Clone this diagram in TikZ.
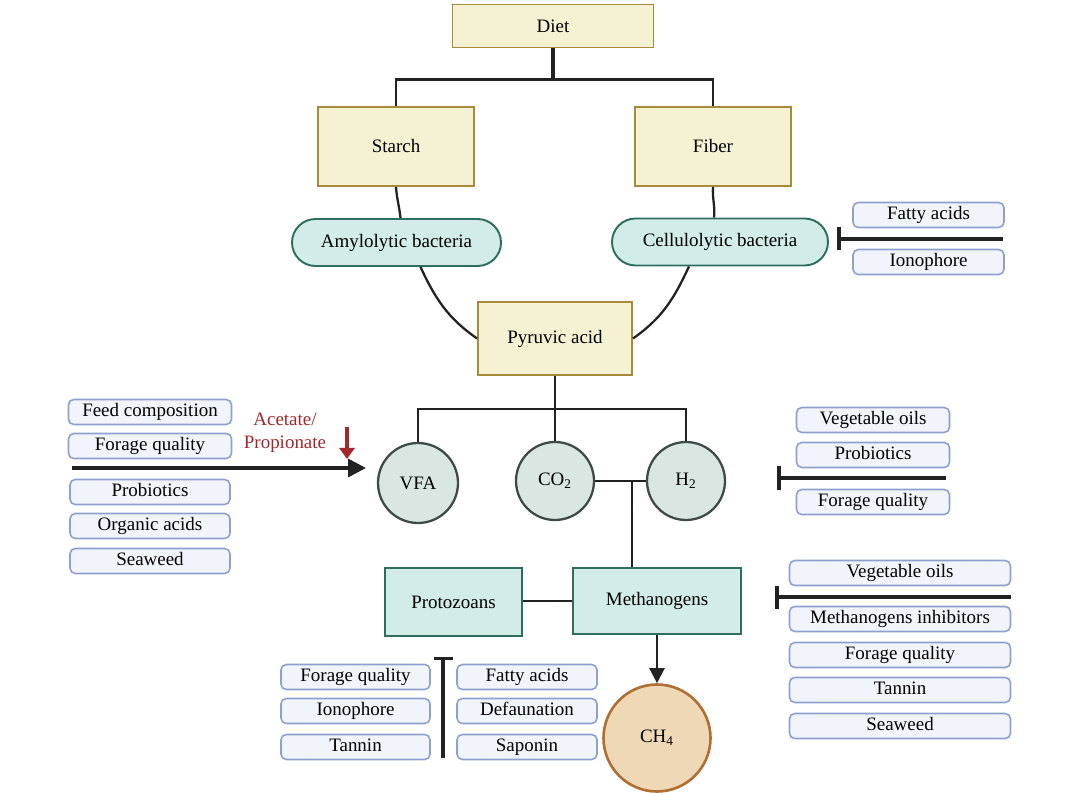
\documentclass[tikz,border=0pt]{standalone}
\usepackage{fontspec}
\setmainfont{Liberation Serif}
\usetikzlibrary{arrows.meta,calc}
\definecolor{yfill}{HTML}{F5F2D3}
\definecolor{yborder}{HTML}{A88B3A}
\definecolor{tfill}{HTML}{D2ECE7}
\definecolor{tborder}{HTML}{2F6E5F}
\definecolor{cfill}{HTML}{DAE6E2}
\definecolor{cborder}{HTML}{3E4A47}
\definecolor{ffill}{HTML}{F1F4FA}
\definecolor{fborder}{HTML}{8FA0CE}
\definecolor{mfill}{HTML}{EED8B5}
\definecolor{mborder}{HTML}{B06F35}
\definecolor{redc}{HTML}{A3282B}
\definecolor{lcol}{HTML}{222222}
\begin{document}
\begin{tikzpicture}[font=\fontsize{10.8}{13}\selectfont]
            \tikzstyle{ybox}=[draw=yborder, fill=yfill, line width=1.1pt, inner sep=2pt]
            \tikzstyle{pill}=[draw=tborder, fill=tfill, line width=1.1pt, rounded corners=0.47cm, minimum height=0.94cm]
            \tikzstyle{tbox}=[draw=tborder, fill=tfill, line width=1.3pt]
            \tikzstyle{bub}=[circle, draw=cborder, fill=cfill, line width=1.3pt, minimum size=1.56cm, inner sep=0pt]
            \tikzstyle{fbox}=[draw=fborder, fill=ffill, line width=0.9pt, rounded corners=3pt, minimum height=0.5cm, inner sep=1pt, text height=1.6ex, text depth=0.4ex]
            \tikzstyle{link}=[draw=lcol, line width=1.3pt]
            \tikzstyle{stop}=[draw=lcol, line width=2.2pt]
            \useasboundingbox (0,0) rectangle (21.6,-15.86);
            \node[ybox, minimum width=4.02cm, minimum height=0.86cm] (D) at (11.06,-0.52) {Diet};
            \node[ybox, minimum width=3.12cm, minimum height=1.58cm] (S) at (7.92,-2.93) {Starch};
            \node[ybox, minimum width=3.12cm, minimum height=1.58cm] (F) at (14.26,-2.93) {Fiber};
            \node[pill, minimum width=4.18cm] (Am) at (7.93,-4.85) {Amylolytic bacteria};
            \node[pill, minimum width=4.32cm] (Ce) at (14.40,-4.84) {Cellulolytic bacteria};
            \node[ybox, minimum width=3.08cm, minimum height=1.46cm] (P) at (11.10,-6.77) {Pyruvic acid};
            \node[bub, minimum size=1.6cm] (V) at (8.36,-9.66) {VFA};
            \node[bub] (C) at (11.10,-9.62) {CO\textsubscript{2}};
            \node[bub] (H) at (13.72,-9.62) {H\textsubscript{2}};
            \node[tbox, minimum width=2.74cm, minimum height=1.36cm] (Pr) at (9.07,-12.04) {Protozoans};
            \node[tbox, minimum width=3.36cm, minimum height=1.32cm] (Me) at (13.14,-12.02) {Methanogens};
            \node[circle, draw=mborder, fill=mfill, line width=1.5pt, minimum size=2.14cm] (CH) at (13.14,-14.76) {CH\textsubscript{4}};
            \draw[link, line width=2.2pt] (D.south) -- ++(0,-0.62) coordinate (d1);
            \draw[link] (S.north) |- (d1) -| (F.north);
            \draw[link] (S.south) to[out=-86,in=96] ([xshift=0.08cm]Am.north);
            \draw[link] (F.south) to[out=-94,in=84] ([xshift=-0.12cm]Ce.north);
            \draw[link] ([xshift=0.48cm]Am.south) to[out=-65,in=145] (P.west);
            \draw[link] ([xshift=-0.62cm]Ce.south) to[out=-115,in=35] (P.east);
            \draw[link] (P.south) -- ++(0,-0.66) coordinate (p1);
            \draw[link] (V.north) |- (p1) -| (H.north);
            \draw[link] (p1) -- (C.north);
            \draw[link] (C.east) -- (H.west);
            \coordinate (j) at ($(C.east)!0.72!(H.west)$);
            \draw[link] (j) -- (j |- Me.north);
            \draw[link] (Me.west) -- (Me.west -| Pr.east);
            \draw[link, -{Triangle[length=0.3cm,width=0.3cm]}] (Me) -- (CH);
            \node[fbox, minimum width=3.26cm] (L1) at (3.0,-8.24) {Feed composition};
            \node[fbox, minimum width=3.26cm] (L2) at (3.0,-8.92) {Forage quality};
            \node[fbox, minimum width=3.2cm] (L3) at (3.0,-9.84) {Probiotics};
            \node[fbox, minimum width=3.2cm] (L4) at (3.0,-10.52) {Organic acids};
            \node[fbox, minimum width=3.2cm] (L5) at (3.0,-11.22) {Seaweed};
            \coordinate (a0) at (1.44,-9.36);
            \coordinate (a1) at (7.32,-9.36);
            \draw[link, line width=2pt, -{Triangle[length=0.36cm,width=0.36cm]}] (a0) -- (a1);
            \node[text=redc, align=center] (AP) at (5.70,-8.66) {Acetate/\\Propionate};
            \coordinate (r0) at (6.94,-8.54);
            \coordinate (r1) at (6.94,-9.18);
            \draw[draw=redc, line width=2pt, -{Triangle[length=0.22cm,width=0.3cm]}] (r0) -- (r1);
            \node[fbox, minimum width=3.06cm] (R1) at (17.46,-8.40) {Vegetable oils};
            \node[fbox, minimum width=3.06cm] (R2) at (17.46,-9.10) {Probiotics};
            \node[fbox, minimum width=3.06cm] (R3) at (17.46,-10.04) {Forage quality};
            \coordinate (h0) at (18.92,-9.56);
            \coordinate (h1) at (15.54,-9.56);
            \draw[stop, -{Bar[width=0.46cm]}] (h0) -- (h1);
            \node[fbox, minimum width=4.42cm] (M1) at (18.0,-11.46) {Vegetable oils};
            \node[fbox, minimum width=4.42cm] (M2) at (18.0,-12.38) {Methanogens inhibitors};
            \node[fbox, minimum width=4.42cm] (M3) at (18.0,-13.10) {Forage quality};
            \node[fbox, minimum width=4.42cm] (M4) at (18.0,-13.80) {Tannin};
            \node[fbox, minimum width=4.42cm] (M5) at (18.0,-14.52) {Seaweed};
            \coordinate (m0) at (20.22,-11.94);
            \coordinate (m1) at (15.50,-11.94);
            \draw[stop, -{Bar[width=0.46cm]}] (m0) -- (m1);
            \node[fbox, minimum width=3.02cm] (T1) at (18.57,-4.30) {Fatty acids};
            \node[fbox, minimum width=3.02cm] (T2) at (18.57,-5.24) {Ionophore};
            \coordinate (c0) at (20.06,-4.78);
            \coordinate (c1) at (16.74,-4.78);
            \draw[stop, -{Bar[width=0.46cm]}] (c0) -- (c1);
            \node[fbox, minimum width=2.98cm] (B1) at (7.11,-13.54) {Forage quality};
            \node[fbox, minimum width=2.98cm] (B2) at (7.11,-14.22) {Ionophore};
            \node[fbox, minimum width=2.98cm] (B3) at (7.11,-14.94) {Tannin};
            \node[fbox, minimum width=2.80cm] (B4) at (10.54,-13.54) {Fatty acids};
            \node[fbox, minimum width=2.80cm] (B5) at (10.54,-14.22) {Defaunation};
            \node[fbox, minimum width=2.80cm] (B6) at (10.54,-14.94) {Saponin};
            \coordinate (q0) at (8.86,-15.16);
            \coordinate (q1) at (8.86,-13.14);
            \draw[stop, line width=1.8pt, -{Bar[width=0.38cm]}] (q0) -- (q1);
        \end{tikzpicture}
\end{document}
